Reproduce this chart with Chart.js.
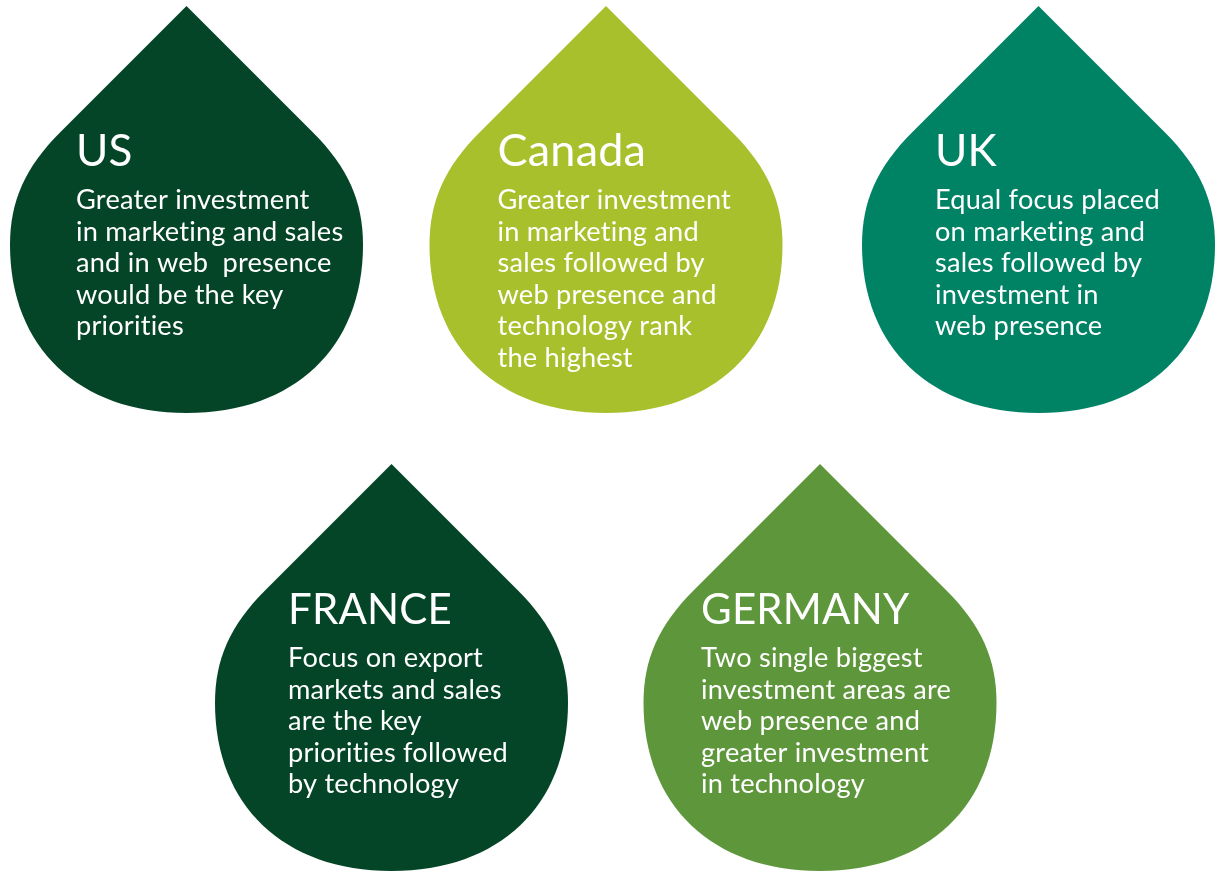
<!DOCTYPE html>
<html>
<head>
<meta charset="utf-8">
<script src="https://cdn.jsdelivr.net/npm/chart.js@4/dist/chart.umd.min.js"></script>
<style>
  html, body { margin: 0; padding: 0; background: #ffffff; }
  #wrap { width: 1217px; height: 871px; }
</style>
</head>
<body>
<div id="wrap"><canvas id="drops" width="1217" height="871"></canvas></div>
<script>
// countries and what the survey said about them
const countries = ['US', 'Canada', 'UK', 'FRANCE', 'GERMANY'];
const findings = [
  ['Greater investment', 'in marketing and sales', 'and in web  presence', 'would be the key', 'priorities'],
  ['Greater investment', 'in marketing and', 'sales followed by', 'web presence and', 'technology rank', 'the highest'],
  ['Equal focus placed', 'on marketing and', 'sales followed by', 'investment in', 'web presence'],
  ['Focus on export', 'markets and sales', 'are the key', 'priorities followed', 'by technology'],
  ['Two single biggest', 'investment areas are', 'web presence and', 'greater investment', 'in technology']
];

// where each drop sits (widest point of the drop)
const dropX = [186.5, 606, 1038.5, 391.5, 820];
const dropY = [245, 245, 245, 703, 703];

// styling
const dropColours = ['#044427', '#a9c02d', '#008265', '#044427', '#5e963b'];
const titleSizes = [44, 45, 44, 42, 42];
const textOffsetX = [-110.5, -108.5, -103.5, -103.5, -119];

const FONT = 'Lato, "Open Sans", sans-serif';

function dropPath(ctx, x, y, s) {
  // teardrop with the point up, s = pixels per layout unit
  const p = (dx, dy) => [x + dx * s, y + dy * s];
  ctx.beginPath();
  ctx.moveTo(...p(0, -239));
  ctx.lineTo(...p(-126.5, -112.5));
  ctx.bezierCurveTo(...p(-161.5, -77.5), ...p(-176.5, -43.75), ...p(-176.5, 0));
  ctx.bezierCurveTo(...p(-176.5, 102.5), ...p(-107.7, 168), ...p(0, 168));
  ctx.bezierCurveTo(...p(107.7, 168), ...p(176.5, 102.5), ...p(176.5, 0));
  ctx.bezierCurveTo(...p(176.5, -43.75), ...p(161.5, -77.5), ...p(126.5, -112.5));
  ctx.closePath();
}

const dropPlugin = {
  id: 'dropPlugin',
  afterDatasetsDraw(chart) {
    const ctx = chart.ctx;
    const xs = chart.scales.x;
    const s = xs.getPixelForValue(1) - xs.getPixelForValue(0);
    const meta = chart.getDatasetMeta(0);
    meta.data.forEach((el, i) => {
      ctx.save();
      dropPath(ctx, el.x, el.y, s);
      ctx.fillStyle = dropColours[i];
      ctx.fill();

      const tx = el.x + textOffsetX[i] * s;
      ctx.fillStyle = '#ffffff';
      ctx.textAlign = 'left';
      ctx.textBaseline = 'alphabetic';
      // small spacing also stops the "ti" ligature
      ctx.letterSpacing = '0.2px';
      ctx.font = `400 ${titleSizes[i]}px ${FONT}`;
      ctx.fillText(countries[i], tx, el.y - 79 * s);

      ctx.font = `400 27.2px ${FONT}`;
      findings[i].forEach((line, j) => {
        ctx.fillText(line, tx, el.y + (-36 + j * 31.6) * s);
      });
      ctx.restore();
    });
  }
};

new Chart(document.getElementById('drops'), {
  type: 'scatter',
  data: {
    labels: countries,
    datasets: [{
      label: 'Investment priorities',
      data: dropX.map((x, i) => ({ x: x, y: dropY[i] })),
      pointRadius: 0,
      pointHoverRadius: 0
    }]
  },
  options: {
    responsive: false,
    animation: false,
    layout: { padding: 0 },
    scales: {
      x: { type: 'linear', min: 0, max: 1217, display: false },
      y: { type: 'linear', min: 0, max: 871, reverse: true, display: false }
    },
    plugins: {
      legend: { display: false },
      tooltip: { enabled: false }
    },
    events: []
  },
  plugins: [dropPlugin]
});
</script>
</body>
</html>
